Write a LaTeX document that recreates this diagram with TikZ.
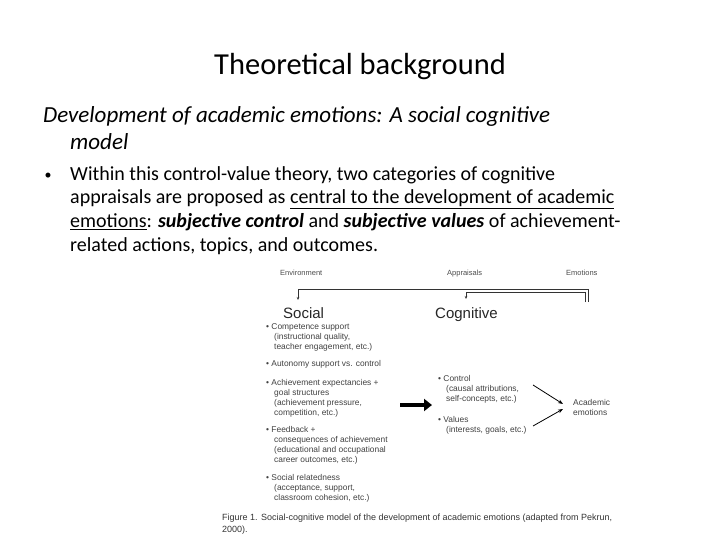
\documentclass[tikz,border=0pt]{standalone}
\usepackage{fontspec}
\setmainfont{Carlito}
\newfontfamily\figfont{Liberation Sans}
\usetikzlibrary{arrows.meta}
\begin{document}
\begin{tikzpicture}[x=1pt,y=-1pt,
  lbl/.style={inner sep=0pt,anchor=west,font=\figfont\fontsize{8.4}{10}\selectfont,text=black!75,align=left},
  head/.style={inner sep=0pt,anchor=base west,font=\figfont\fontsize{7.5}{9}\selectfont,text=black!70},
  big/.style={inner sep=0pt,anchor=base west,font=\figfont\fontsize{15}{18}\selectfont,text=black!85},
  fb/.style={draw=black!80,line width=0.6pt},
  ar/.style={draw=black,line width=0.8pt,-{Stealth[length=5pt]}}]
\useasboundingbox (0,0) rectangle (720,540);
\node[inner sep=0pt,font=\fontsize{30.5}{34}\selectfont] (title) at (360,67) {Theoretical background};
\node[inner sep=0pt,anchor=north west,align=left,font=\itshape\fontsize{23}{27}\selectfont] (sub) at (43,106)
 {Development of academic emotions: A social cognitive\\\hspace*{27pt}model};
\node[inner sep=0pt,font=\fontsize{14}{16}\selectfont] (dot) at (48,176) {\textbullet};
\node[inner sep=0pt,anchor=north west,align=left,font=\fontsize{20}{23.7}\selectfont] (bul) at (70,166)
 {Within this control-value theory, two categories of cognitive\\
 appraisals are proposed as \underline{central to the development of academic}\\
 \underline{emotions}: \textbf{\textit{subjective control}} and \textbf{\textit{subjective values}} of achievement-\\
 related actions, topics, and outcomes.};
% figure
\node[head] (env) at (280,275) {Environment};
\node[head] (app) at (447,275) {Appraisals};
\node[head] (emo) at (566,275) {Emotions};
\coordinate (r1) at (588,302);
\coordinate (r2) at (585,302);
\draw[fb,-{Stealth[length=3pt,width=2.5pt]}] (r1) -- (588,289) -- (298,289) -- (298,300);
\draw[fb,-{Stealth[length=3pt,width=2.5pt]}] (r2) -- (585,292) -- (466,292) -- (466,299);
\node[big] (soc) at (283,318) {Social};
\node[big] (cog) at (435,318) {Cognitive};
\node[lbl] (b1) at (266,337) {\textbullet\ Competence support\\\hspace*{8pt}(instructional quality,\\\hspace*{8pt}teacher engagement, etc.)};
\node[lbl] (b2) at (266,364) {\textbullet\ Autonomy support vs. control};
\node[lbl] (b3) at (266,398) {\textbullet\ Achievement expectancies +\\\hspace*{8pt}goal structures\\\hspace*{8pt}(achievement pressure,\\\hspace*{8pt}competition, etc.)};
\node[lbl] (b4) at (266,445) {\textbullet\ Feedback +\\\hspace*{8pt}consequences of achievement\\\hspace*{8pt}(educational and occupational\\\hspace*{8pt}career outcomes, etc.)};
\node[lbl] (b5) at (266,488) {\textbullet\ Social relatedness\\\hspace*{8pt}(acceptance, support,\\\hspace*{8pt}classroom cohesion, etc.)};
\node[lbl] (ctl) at (438,389) {\textbullet\ Control\\\hspace*{8pt}(causal attributions,\\\hspace*{8pt}self-concepts, etc.)};
\node[lbl] (val) at (438,425) {\textbullet\ Values\\\hspace*{8pt}(interests, goals, etc.)};
\node[lbl] (ae) at (573,407) {Academic\\emotions};
\coordinate (ba) at (400,405);
\coordinate (bb) at (432,405);
\draw[line width=3.5pt,-{Triangle[length=8pt,width=12pt]}] (ba) -- (bb);
\coordinate (c1) at (533,385);
\coordinate (c2) at (533,426);
\coordinate (t1) at (563,404);
\coordinate (t2) at (563,409);
\draw[ar] (c1) -- (t1);
\draw[ar] (c2) -- (t2);
\node[inner sep=0pt,anchor=north west,align=left,font=\figfont\fontsize{9}{12}\selectfont,text=black!80] (cap) at (222,514)
 {Figure 1. Social-cognitive model of the development of academic emotions (adapted from Pekrun,\\2000).};
\end{tikzpicture}
\end{document}
